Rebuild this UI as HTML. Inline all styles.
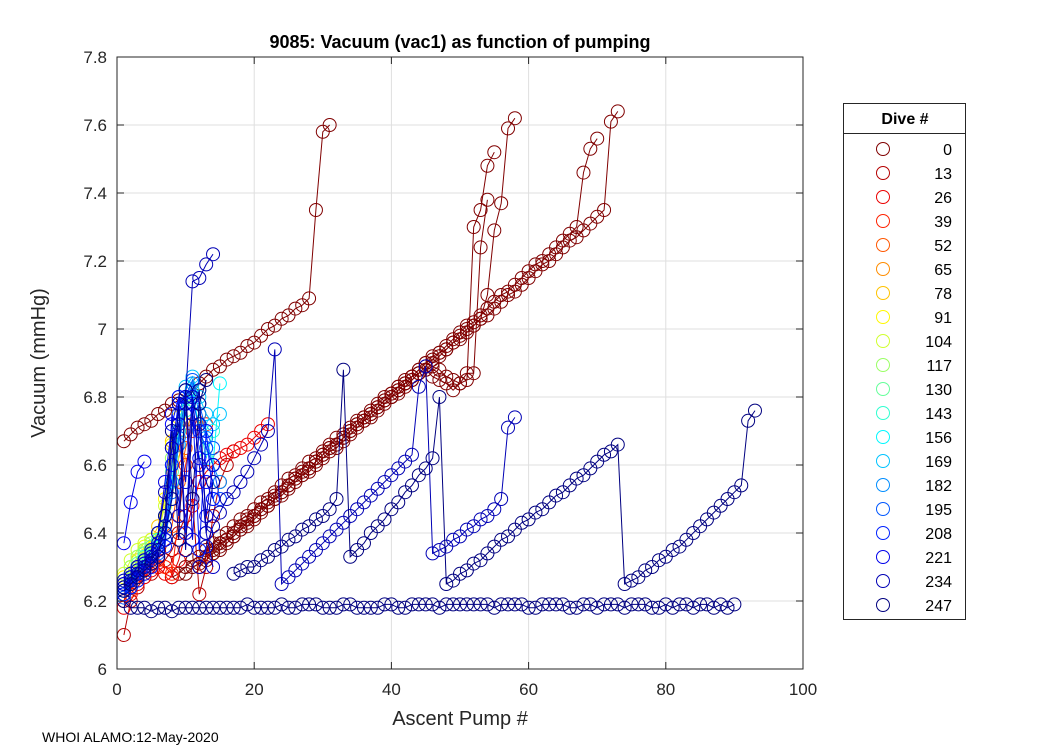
<!DOCTYPE html>
<html><head><meta charset="utf-8"><style>
body{margin:0;background:#fff;width:1050px;height:750px;overflow:hidden;font-family:"Liberation Sans",Arial,sans-serif}
svg text{font-family:"Liberation Sans",Arial,sans-serif}
</style></head><body>
<svg id="chart" width="1050" height="750" viewBox="0 0 1050 750" xmlns="http://www.w3.org/2000/svg">
<rect width="1050" height="750" fill="#fff"/>
<g id="grid"></g>
<g id="series"></g>
<g id="axes"></g>
<g id="legend"></g>
</svg>
<script>
const xTicks=[0,20,40,60,80,100];
const yTicks=[6,6.2,6.4,6.6,6.8,7,7.2,7.4,7.6,7.8];
const legendDives=[0,13,26,39,52,65,78,91,104,117,130,143,156,169,182,195,208,221,234,247];
const seriesDives=[0,0,0,0,0,0,13,26,39,52,65,78,91,104,117,130,143,156,169,182,195,200,215,234,221,234,247,247,210,225,240,247,230];
const seriesStart=[1,8,10,40,12,14,1,1,1,1,1,1,1,1,1,1,1,1,1,1,1,1,1,1,1,12,17,1,1,1,1,1,1];
const seriesValues=[
[6.67,6.69,6.71,6.72,6.73,6.75,6.76,6.78,6.79,6.80,6.82,6.84,6.86,6.88,6.89,6.91,6.92,6.93,6.95,6.96,6.98,7.00,7.01,7.03,7.04,7.06,7.07,7.09,7.35,7.58,7.60],
[6.27,6.28,6.30,6.32,6.33,6.35,6.37,6.39,6.40,6.42,6.44,6.45,6.47,6.49,6.50,6.52,6.54,6.56,6.57,6.59,6.61,6.62,6.64,6.66,6.68,6.69,6.71,6.73,6.74,6.76,6.78,6.80,6.81,6.83,6.85,6.86,6.88,6.90,6.89,6.88,6.86,6.85,6.84,6.85,7.30,7.35,7.48,7.52],
[6.28,6.30,6.31,6.33,6.35,6.37,6.38,6.40,6.42,6.44,6.45,6.47,6.49,6.51,6.52,6.54,6.56,6.58,6.59,6.61,6.63,6.65,6.66,6.68,6.70,6.72,6.73,6.75,6.77,6.79,6.80,6.82,6.84,6.86,6.87,6.89,6.91,6.93,6.94,6.96,6.98,7.00,7.01,7.03,7.10,7.29,7.37,7.59,7.62],
[6.80,6.82,6.84,6.85,6.87,6.88,6.86,6.85,6.84,6.82,6.84,6.87,6.87,7.24,7.38],
[6.30,6.32,6.34,6.35,6.37,6.39,6.41,6.42,6.44,6.46,6.48,6.50,6.51,6.53,6.55,6.57,6.58,6.60,6.62,6.64,6.65,6.67,6.69,6.71,6.73,6.74,6.76,6.78,6.80,6.81,6.83,6.85,6.87,6.88,6.90,6.92,6.94,6.96,6.97,6.99,7.01,7.03,7.04,7.06,7.08,7.10,7.11,7.13,7.15,7.17,7.19,7.20,7.22,7.24,7.26,7.27,7.29,7.31,7.33,7.35,7.61,7.64],
[6.34,6.36,6.38,6.39,6.41,6.43,6.45,6.47,6.48,6.50,6.52,6.54,6.56,6.57,6.59,6.61,6.63,6.65,6.66,6.68,6.70,6.72,6.74,6.75,6.77,6.79,6.81,6.83,6.84,6.86,6.88,6.90,6.92,6.93,6.95,6.97,6.99,7.01,7.02,7.04,7.06,7.08,7.10,7.11,7.13,7.15,7.17,7.19,7.20,7.22,7.24,7.26,7.28,7.30,7.46,7.53,7.56],
[6.10,6.20,6.24,6.27,6.28,6.30,6.32,6.35,6.40,6.45,6.50,6.22,6.30,6.45,6.55,6.60,6.64],
[6.18,6.22,6.25,6.27,6.29,6.30,6.28,6.27,6.32,6.40,6.48,6.55,6.58,6.60,6.62,6.63,6.64,6.65,6.66,6.68,6.70,6.72],
[6.20,6.23,6.26,6.28,6.30,6.32,6.30,6.28,6.45,6.60,6.70,6.75,6.72],
[6.22,6.25,6.28,6.31,6.34,6.38,6.40,6.42,6.55,6.65,6.72,6.75,6.70],
[6.24,6.27,6.30,6.33,6.36,6.40,6.42,6.50,6.62,6.70,6.75],
[6.25,6.28,6.32,6.35,6.38,6.42,6.55,6.67,6.72,6.76],
[6.27,6.30,6.33,6.36,6.38,6.40,6.50,6.66,6.74],
[6.28,6.32,6.35,6.37,6.38,6.40,6.48,6.60,6.70,6.78],
[6.26,6.30,6.33,6.35,6.37,6.40,6.45,6.62,6.72,6.78,6.80],
[6.25,6.28,6.31,6.34,6.36,6.38,6.45,6.58,6.70,6.78,6.80,6.82],
[6.24,6.27,6.30,6.33,6.35,6.38,6.42,6.55,6.68,6.76,6.80,6.72,6.62,6.70],
[6.23,6.26,6.29,6.32,6.34,6.37,6.40,6.52,6.66,6.78,6.82,6.70,6.65,6.60,6.84],
[6.22,6.25,6.28,6.30,6.33,6.36,6.40,6.55,6.70,6.83,6.86,6.80,6.75,6.72,6.75],
[6.22,6.24,6.27,6.30,6.32,6.35,6.38,6.50,6.66,6.78,6.84,6.75,6.68,6.60,6.55],
[6.21,6.24,6.26,6.29,6.31,6.34,6.38,6.52,6.68,6.80,6.85,6.78,6.70,6.65],
[6.23,6.26,6.28,6.30,6.33,6.36,6.45,6.60,6.75,6.82,6.80,6.70,6.65,6.60,6.50],
[6.24,6.27,6.29,6.31,6.34,6.40,6.55,6.72,6.80,6.78,6.75,6.62,6.55,6.50],
[6.25,6.27,6.30,6.32,6.35,6.40,6.52,6.65,6.78,6.80,7.14,7.15,7.19,7.22],
[6.37,6.49,6.58,6.61],
[6.30,6.36,6.42,6.46,6.50,6.52,6.55,6.58,6.62,6.66,6.70,6.94,6.25,6.27,6.29,6.31,6.33,6.35,6.37,6.39,6.41,6.43,6.45,6.47,6.49,6.51,6.53,6.55,6.57,6.59,6.61,6.63,6.83,6.89,6.34,6.35,6.36,6.38,6.39,6.41,6.42,6.44,6.45,6.47,6.50,6.71,6.74],
[6.28,6.29,6.30,6.30,6.32,6.33,6.35,6.36,6.38,6.39,6.41,6.42,6.44,6.45,6.47,6.50,6.88,6.33,6.35,6.37,6.40,6.42,6.44,6.47,6.49,6.52,6.54,6.57,6.59,6.62,6.80,6.25,6.26,6.28,6.29,6.31,6.32,6.34,6.36,6.38,6.39,6.41,6.43,6.44,6.46,6.47,6.49,6.51,6.52,6.54,6.56,6.57,6.59,6.61,6.63,6.64,6.66,6.25,6.26,6.27,6.29,6.30,6.32,6.33,6.35,6.36,6.38,6.40,6.42,6.44,6.46,6.48,6.50,6.52,6.54,6.73,6.76],
[6.20,6.18,6.18,6.18,6.17,6.18,6.18,6.17,6.18,6.18,6.18,6.18,6.18,6.18,6.18,6.18,6.18,6.18,6.19,6.18,6.18,6.18,6.18,6.19,6.18,6.18,6.19,6.19,6.19,6.18,6.18,6.18,6.19,6.19,6.18,6.18,6.18,6.18,6.19,6.19,6.18,6.18,6.19,6.19,6.19,6.19,6.18,6.19,6.19,6.19,6.19,6.19,6.19,6.19,6.18,6.19,6.19,6.19,6.19,6.18,6.18,6.19,6.19,6.19,6.19,6.18,6.18,6.19,6.19,6.18,6.19,6.19,6.19,6.18,6.19,6.19,6.19,6.18,6.18,6.19,6.18,6.19,6.19,6.18,6.19,6.19,6.18,6.19,6.18,6.19],
[6.22,6.24,6.26,6.28,6.30,6.33,6.36,6.60,6.80,6.40,6.78,6.35,6.70,6.50],
[6.25,6.27,6.29,6.31,6.33,6.35,6.38,6.75,6.45,6.80,6.38,6.72,6.45,6.60],
[6.24,6.26,6.28,6.30,6.32,6.35,6.40,6.50,6.78,6.35,6.75,6.82,6.40,6.55],
[6.23,6.25,6.27,6.29,6.31,6.33,6.45,6.70,6.38,6.82,6.50,6.78,6.85],
[6.26,6.28,6.30,6.32,6.34,6.37,6.42,6.65,6.72,6.55,6.80,6.60,6.40,6.30]
];
const NS="http://www.w3.org/2000/svg";
const L=117,R=803,T=57,B=669;
function xs(v){return L+(v-0)/(100-0)*(R-L);}
function ys(v){return B-(v-6)/(7.8-6)*(B-T);}
function clamp(v){return Math.max(0,Math.min(1,v));}
function col(d){const u=1-d/247;const r=clamp(1.5-Math.abs(4*u-3)),g=clamp(1.5-Math.abs(4*u-2)),b=clamp(1.5-Math.abs(4*u-1));
 return `rgb(${Math.round(r*255)},${Math.round(g*255)},${Math.round(b*255)})`;}
function mk(tag,attrs,parent){const e=document.createElementNS(NS,tag);for(const k in attrs)e.setAttribute(k,attrs[k]);parent.appendChild(e);return e;}
const grid=document.getElementById('grid'),ser=document.getElementById('series'),ax=document.getElementById('axes'),lg=document.getElementById('legend');
xTicks.forEach(t=>{const l=mk('line',{x1:xs(t),x2:xs(t),y1:T,y2:B,stroke:'#dfdfdf','stroke-width':1},grid);

});
yTicks.forEach(t=>{const l=mk('line',{x1:L,x2:R,y1:ys(t),y2:ys(t),stroke:'#dfdfdf','stroke-width':1},grid);

});
seriesValues.forEach((vals,i)=>{
 const c=col(seriesDives[i]);const x0=seriesStart[i];
 const g=mk('g',{},ser);
 
 
 const pts=vals.map((v,j)=>xs(x0+j).toFixed(1)+','+ys(v).toFixed(1)).join(' ');
 mk('polyline',{points:pts,fill:'none',stroke:c,'stroke-width':1},g);
 vals.forEach((v,j)=>{const p=mk('circle',{cx:xs(x0+j),cy:ys(v),r:6.5,fill:'none',stroke:c,'stroke-width':1},g);
 
 });
});
mk('rect',{x:L,y:T,width:R-L,height:B-T,fill:'none',stroke:'#262626','stroke-width':1},ax);
xTicks.forEach(t=>{mk('line',{x1:xs(t),x2:xs(t),y1:B,y2:B-7,stroke:'#262626'},ax);mk('line',{x1:xs(t),x2:xs(t),y1:T,y2:T+7,stroke:'#262626'},ax);
 const tx=mk('text',{x:xs(t),y:695,'text-anchor':'middle','font-size':17,fill:'#262626'},ax);tx.textContent=t;
 
 });
yTicks.forEach(t=>{mk('line',{x1:L,x2:L+7,y1:ys(t),y2:ys(t),stroke:'#262626'},ax);mk('line',{x1:R,x2:R-7,y1:ys(t),y2:ys(t),stroke:'#262626'},ax);
 const tx=mk('text',{x:107,y:ys(t)+6,'text-anchor':'end','font-size':17,fill:'#262626'},ax);tx.textContent=String(t);
 
 });
let t1=mk('text',{x:460,y:48,'text-anchor':'middle','font-size':18,'font-weight':'bold',fill:'#000'},ax);t1.textContent='9085: Vacuum (vac1) as function of pumping';


let t2=mk('text',{x:460,y:725,'text-anchor':'middle','font-size':20,fill:'#262626'},ax);t2.textContent='Ascent Pump #';


let t3=mk('text',{x:45,y:363,'text-anchor':'middle','font-size':20,fill:'#262626',transform:'rotate(-90 45 363)'},ax);t3.textContent='Vacuum (mmHg)';


let t4=mk('text',{x:42,y:742,'font-size':14,fill:'#000'},ax);t4.textContent='WHOI ALAMO:12-May-2020';


let lb=mk('rect',{x:843.5,y:103.5,width:122,height:516,fill:'#fff',stroke:'#262626','stroke-width':1},lg);


mk('line',{x1:843.5,x2:965.5,y1:133.5,y2:133.5,stroke:'#262626'},lg);
let lt=mk('text',{x:905,y:124,'text-anchor':'middle','font-size':16,'font-weight':'bold',fill:'#000'},lg);lt.textContent='Dive #';


legendDives.forEach((d,i)=>{const y=149+i*24;const g=mk('g',{},lg);
 
 
 mk('circle',{cx:883,cy:y,r:6.5,fill:'none',stroke:col(d),'stroke-width':1},g);
 const tx=mk('text',{x:952,y:y+6,'text-anchor':'end','font-size':16,fill:'#000'},g);tx.textContent=d;});
</script>
</body></html>
